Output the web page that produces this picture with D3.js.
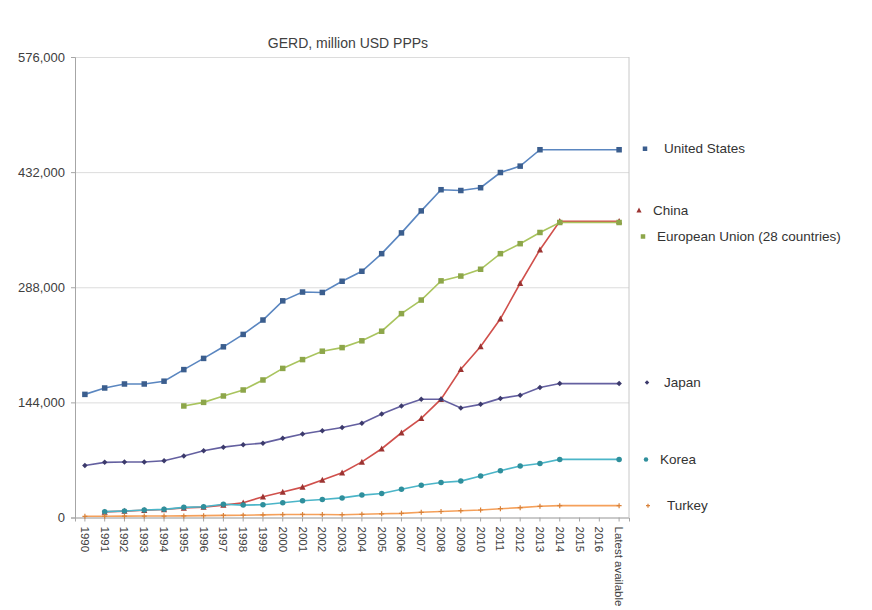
<!DOCTYPE html>
<html>
<head>
<meta charset="utf-8">
<script src="https://cdn.jsdelivr.net/npm/d3@7"></script>
<style>
  body { margin: 0; background: #fff; }
  svg { display: block; font-family: "Liberation Sans", Arial, sans-serif; }
</style>
</head>
<body>
<svg id="chart" width="872" height="610"></svg>
<script>
// Gross domestic expenditure on R&D, million USD PPPs
const years = ["1990","1991","1992","1993","1994","1995","1996","1997","1998","1999",
  "2000","2001","2002","2003","2004","2005","2006","2007","2008","2009",
  "2010","2011","2012","2013","2014","2015","2016","Latest available"];

const unitedStates = [154000,162000,167000,167000,170500,185000,199000,213500,229000,247000,
  271000,282000,281500,295500,308000,330000,356000,383500,410000,409000,
  412500,431500,439500,460000,null,null,null,460000];

const china = [null,7000,8000,9000,10000,12000,13000,15500,18500,26000,
  32000,38000,47000,56000,69500,86000,106000,124000,148000,185500,
  214000,248500,293000,335000,370500,null,null,370500];

const europeanUnion = [null,null,null,null,null,139500,144000,152000,159500,172000,
  186500,197500,208000,212500,221000,233000,255000,272000,296000,302000,
  310500,330000,342500,356500,369000,null,null,369000];

const japan = [65000,69000,69500,69500,71000,77000,83500,88000,91000,93000,
  99000,104500,108500,112500,118000,129500,139500,148000,148000,137000,
  141500,149000,153000,162500,167500,null,null,167500];

const korea = [null,7300,8100,9400,10200,12700,13500,16500,15500,16000,
  18500,21000,22500,24500,28000,30000,35300,40300,43700,45500,
  51800,58500,64500,67500,72700,null,null,72700];

const turkey = [1500,1600,1700,1800,1800,2000,2300,2600,2900,3300,
  3700,3800,3700,3500,4000,4600,5200,6500,7500,8500,
  9400,11000,12300,14000,14800,null,null,14800];

const yTicks = [0, 144000, 288000, 432000, 576000];
const title = "GERD, million USD PPPs";

// drawn in this order, later series on top
const series = [
  { name: "United States", values: unitedStates, line: "#5a86c0", mark: "#3b5e8e", shape: "square", lx: 645, tx: 664, dy: -1 },
  { name: "China", values: china, line: "#d0504c", mark: "#9c3432", shape: "triangle", lx: 639, tx: 653, dy: -11 },
  { name: "European Union (28 countries)", values: europeanUnion, line: "#a9c45e", mark: "#8da64a", shape: "square", lx: 643, tx: 657, dy: 14 },
  { name: "Japan", values: japan, line: "#6460a0", mark: "#3c3a6c", shape: "diamond", lx: 647, tx: 664, dy: -1 },
  { name: "Korea", values: korea, line: "#4bb5c8", mark: "#2f8f9c", shape: "circle", lx: 646, tx: 660, dy: 0 },
  { name: "Turkey", values: turkey, line: "#f5a05a", mark: "#d9823a", shape: "plus", lx: 648, tx: 667, dy: 0 }
];

const svg = d3.select("#chart");
const plot = { left: 75, right: 629, top: 57, bottom: 517.5 };

const x = d3.scaleBand().domain(years).range([plot.left, plot.right]);
const y = d3.scaleLinear().domain([0, 576000]).range([plot.bottom, plot.top]);
const cx = d => x(d) + x.bandwidth() / 2;

// title
svg.append("text")
  .attr("x", 348).attr("y", 48)
  .attr("text-anchor", "middle")
  .attr("font-size", 14).attr("fill", "#404040")
  .text(title);

// horizontal gridlines
svg.append("g")
  .attr("transform", `translate(${plot.left},0)`)
  .call(d3.axisLeft(y).tickValues(yTicks).tickSize(-(plot.right - plot.left)).tickFormat(""))
  .call(g => g.select(".domain").remove())
  .call(g => g.selectAll("line").attr("stroke", "#dcdcdc"));

// right border
svg.append("line")
  .attr("x1", plot.right).attr("x2", plot.right)
  .attr("y1", plot.top).attr("y2", plot.bottom)
  .attr("stroke", "#c8c8c8");

// y axis
svg.append("g")
  .attr("transform", `translate(${plot.left},0)`)
  .call(d3.axisLeft(y).tickValues(yTicks).tickSize(4).tickPadding(6).tickFormat(d3.format(",")))
  .call(g => g.select(".domain").attr("stroke", "#a6a6a6"))
  .call(g => g.selectAll(".tick line").attr("stroke", "#a6a6a6"))
  .call(g => g.selectAll("text").attr("font-size", 13).attr("fill", "#404040")
    .attr("font-family", "Liberation Sans, Arial, sans-serif"));

// x axis
svg.append("g")
  .attr("transform", `translate(0,${plot.bottom})`)
  .call(d3.axisBottom(x).tickSize(4).tickPadding(3))
  .call(g => g.select(".domain").attr("stroke", "#a6a6a6"))
  .call(g => g.selectAll(".tick line").attr("stroke", "#a6a6a6"))
  .call(g => g.selectAll("text")
    .attr("font-size", 11.5).attr("fill", "#404040")
    .attr("font-family", "Liberation Sans, Arial, sans-serif")
    .attr("text-anchor", "start")
    .attr("dy", "0.35em")
    .attr("transform", "rotate(90)")
    .attr("x", 9).attr("y", 0));

const line = d3.line()
  .x(d => cx(d.year))
  .y(d => y(d.value));

function marker(sel, shape, size, color) {
  const s = size;
  if (shape === "square") {
    sel.append("rect").attr("x", -s / 2).attr("y", -s / 2).attr("width", s).attr("height", s).attr("fill", color);
  } else if (shape === "circle") {
    sel.append("circle").attr("r", s / 2).attr("fill", color);
  } else if (shape === "diamond") {
    sel.append("path").attr("d", `M0,${-s/2}L${s/2},0L0,${s/2}L${-s/2},0Z`).attr("fill", color);
  } else if (shape === "triangle") {
    sel.append("path").attr("d", `M0,${-s/2 - 0.5}L${s/2 + 0.3},${s/2}L${-s/2 - 0.3},${s/2}Z`).attr("fill", color);
  } else if (shape === "plus") {
    sel.append("path").attr("d", `M${-s/2},0H${s/2}M0,${-s/2}V${s/2}`).attr("stroke", color).attr("stroke-width", 1.2).attr("fill", "none");
  }
}

const layer = svg.append("g");
series.forEach(s => {
  const pts = years.map((yr, i) => ({ year: yr, value: s.values[i] })).filter(d => d.value != null);
  const g = layer.append("g");
  g.append("path")
    .datum(pts)
    .attr("d", line)
    .attr("fill", "none")
    .attr("stroke", s.line)
    .attr("stroke-width", 1.6);
  g.selectAll("g.pt").data(pts).join("g")
    .attr("class", "pt")
    .attr("transform", d => `translate(${cx(d.year)},${y(d.value)})`)
    .each(function () { marker(d3.select(this), s.shape, s.shape === "plus" ? 5 : 5.5, s.mark); });
});

// series labels at the right, level with each series' latest value
const labels = svg.append("g");
series.forEach(s => {
  const last = s.values[s.values.length - 1];
  const ly = y(last) + s.dy;
  const m = labels.append("g").attr("transform", `translate(${s.lx},${ly})`);
  marker(m, s.shape, s.shape === "plus" ? 4 : 4.5, s.mark);
  labels.append("text")
    .attr("x", s.tx).attr("y", ly)
    .attr("dy", "0.35em")
    .attr("font-size", 13.5).attr("fill", "#333")
    .text(s.name);
});
</script>
</body>
</html>
